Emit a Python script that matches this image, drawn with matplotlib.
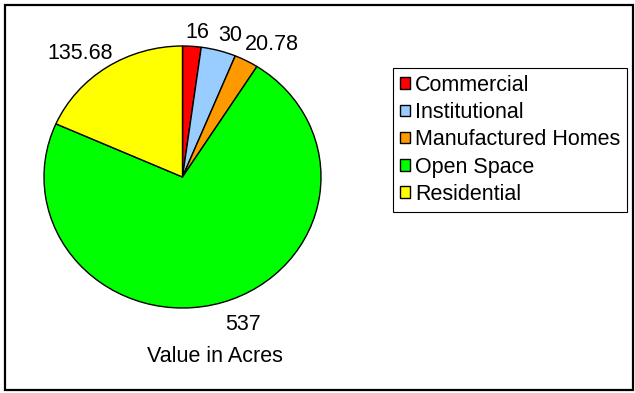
import matplotlib.pyplot as plt
from matplotlib.patches import Rectangle
from matplotlib.transforms import offset_copy

plt.rcParams['font.family'] = ['Liberation Sans', 'DejaVu Sans']

# land use, acres
categories = ['Commercial', 'Institutional', 'Manufactured Homes', 'Open Space', 'Residential']
acres = [16, 30, 20.78, 537, 135.68]
value_labels = ['16', '30', '20.78', '537', '135.68']
colors = ['#FF0000', '#99CCFF', '#FF9900', '#00FF00', '#FFFF00']

# extra push of each value label away from its default spot (pixels)
label_nudge = [(4, -7), (6, -5), (15, -2), (14, -2), (-15, -4)]

fig = plt.figure(figsize=(6.35, 3.93), dpi=100)
W, H = 635, 393
FS = 15.5

# pie axes (pixel box -> figure fraction); drawn slightly squashed
ax = fig.add_axes([44 / W, (H - 308) / H, 277 / W, 262 / H])
wedges, texts = ax.pie(acres, labels=value_labels, colors=colors,
                       startangle=90, counterclock=False, radius=1,
                       labeldistance=1.16,
                       wedgeprops=dict(edgecolor='black', linewidth=1.0),
                       textprops=dict(fontsize=FS, color='black'))
for t, (dx, dy) in zip(texts, label_nudge):
    t.set_ha('center')
    t.set_va('center')
    t.set_transform(offset_copy(ax.transData, fig=fig, x=dx, y=dy, units='dots'))
ax.set_aspect('auto')
ax.set_xlim(-1, 1)
ax.set_ylim(-1, 1)

fig.text(215 / W, (H - 357) / H, 'Value in Acres', fontsize=FS,
         ha='center', va='center')

leg = fig.legend(wedges, categories, loc='upper left',
                 bbox_to_anchor=(393 / W, (H - 68) / H),
                 bbox_transform=fig.transFigure, borderaxespad=0,
                 fontsize=FS, frameon=True, fancybox=False,
                 edgecolor='black', framealpha=1,
                 handlelength=0.45, handleheight=0.45, handletextpad=0.25,
                 labelspacing=0.29, borderpad=0.32)
leg.get_frame().set_linewidth(0.8)

# outer chart border
fig.patches.append(Rectangle((5 / W, (H - 390) / H), 628 / W, 385 / H,
                             transform=fig.transFigure, fill=False,
                             edgecolor='black', linewidth=1.6))

fig.savefig('out.png', dpi=100)
